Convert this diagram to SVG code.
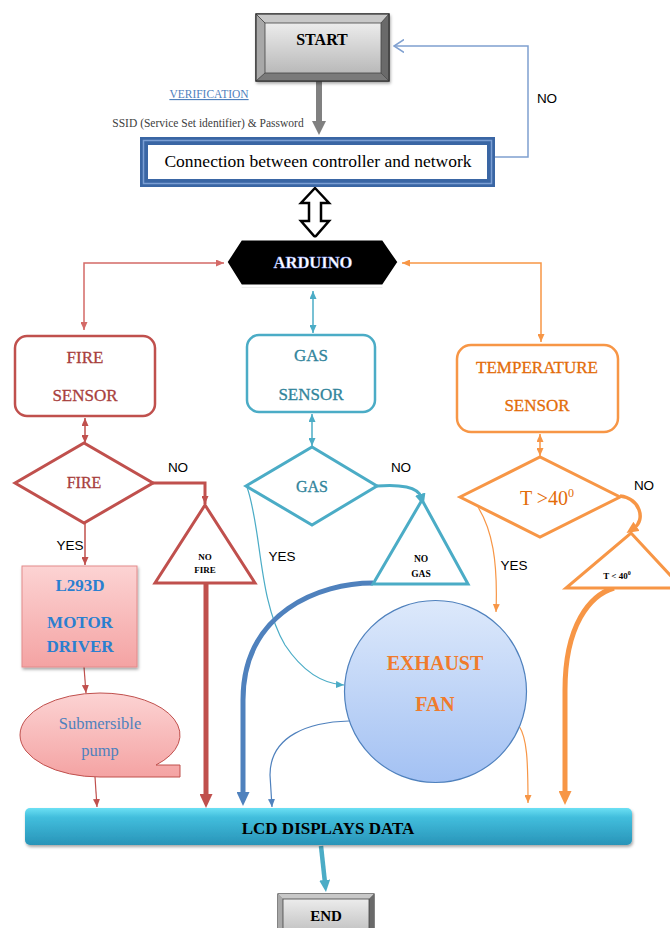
<svg xmlns="http://www.w3.org/2000/svg" width="670" height="928" viewBox="0 0 670 928">
<style>
  .serif{font-family:"Liberation Serif","Times New Roman",serif}
  .sans{font-family:"Liberation Sans",Arial,sans-serif}
  .lbl{font-family:"Liberation Sans",Arial,sans-serif;font-size:13.5px;fill:#000}
  .c{text-anchor:middle}
  .b{font-weight:bold}
  .red{stroke:#c0504d;fill:none}
  .cy{stroke:#4bacc6;fill:none}
  .or{stroke:#f79646;fill:none}
  .bl{stroke:#4f81bd;fill:none}
</style>
<defs>
  <linearGradient id="gGray" x1="0" y1="0" x2="0" y2="1"><stop offset="0" stop-color="#ececec"/><stop offset="1" stop-color="#b9b9b9"/></linearGradient>
  <linearGradient id="gPink" x1="0" y1="0" x2="0" y2="1"><stop offset="0" stop-color="#fcd3d3"/><stop offset="1" stop-color="#f4a3a3"/></linearGradient>
  <linearGradient id="gCyan" x1="0" y1="0" x2="0" y2="1"><stop offset="0" stop-color="#6ce0f4"/><stop offset="0.25" stop-color="#42bedd"/><stop offset="1" stop-color="#2894b8"/></linearGradient>
  <linearGradient id="gFan" x1="0" y1="0" x2="0" y2="1"><stop offset="0" stop-color="#dde9fb"/><stop offset="1" stop-color="#a3c1f3"/></linearGradient>
  <filter id="sh" x="-10%" y="-10%" width="130%" height="140%"><feDropShadow dx="1" dy="2" stdDeviation="1.5" flood-color="#000" flood-opacity="0.35"/></filter>
  <marker id="aR" viewBox="0 0 8 7" refX="8" refY="3.5" markerWidth="8" markerHeight="7" markerUnits="userSpaceOnUse" orient="auto-start-reverse"><path d="M0,0 L8,3.5 L0,7 z" fill="#c0504d"/></marker>
  <marker id="aRs" viewBox="0 0 8 7" refX="8" refY="3.5" markerWidth="8" markerHeight="7" markerUnits="userSpaceOnUse" orient="auto-start-reverse"><path d="M0,0 L8,3.5 L0,7 z" fill="#d46a67"/></marker>
  <marker id="aRB" viewBox="0 0 14 13" refX="4" refY="6.5" markerWidth="14" markerHeight="13" markerUnits="userSpaceOnUse" orient="auto"><path d="M0,0 L14,6.5 L0,13 z" fill="#c0504d"/></marker>
  <marker id="aC" viewBox="0 0 8 7" refX="8" refY="3.5" markerWidth="8" markerHeight="7" markerUnits="userSpaceOnUse" orient="auto-start-reverse"><path d="M0,0 L8,3.5 L0,7 z" fill="#4bacc6"/></marker>
  <marker id="aCB" viewBox="0 0 12 11" refX="3" refY="5.5" markerWidth="12" markerHeight="11" markerUnits="userSpaceOnUse" orient="auto"><path d="M0,0 L12,5.5 L0,11 z" fill="#4bacc6"/></marker>
  <marker id="aO" viewBox="0 0 8 7" refX="8" refY="3.5" markerWidth="8" markerHeight="7" markerUnits="userSpaceOnUse" orient="auto-start-reverse"><path d="M0,0 L8,3.5 L0,7 z" fill="#f79646"/></marker>
  <marker id="aOM" viewBox="0 0 12 11" refX="3" refY="5.5" markerWidth="12" markerHeight="11" markerUnits="userSpaceOnUse" orient="auto"><path d="M0,0 L12,5.5 L0,11 z" fill="#f79646"/></marker>
  <marker id="aOB" viewBox="0 0 14 13" refX="4" refY="6.5" markerWidth="14" markerHeight="13" markerUnits="userSpaceOnUse" orient="auto"><path d="M0,0 L14,6.5 L0,13 z" fill="#f79646"/></marker>
  <marker id="aB" viewBox="0 0 8 7" refX="8" refY="3.5" markerWidth="8" markerHeight="7" markerUnits="userSpaceOnUse" orient="auto"><path d="M0,0 L8,3.5 L0,7 z" fill="#4f81bd"/></marker>
  <marker id="aBB" viewBox="0 0 14 13" refX="4" refY="6.5" markerWidth="14" markerHeight="13" markerUnits="userSpaceOnUse" orient="auto"><path d="M0,0 L14,6.5 L0,13 z" fill="#4f81bd"/></marker>
  <marker id="aG" viewBox="0 0 14 14" refX="4" refY="7" markerWidth="14" markerHeight="14" markerUnits="userSpaceOnUse" orient="auto"><path d="M0,0 L14,7 L0,14 z" fill="#808080"/></marker>
  <marker id="aLB" viewBox="0 0 11 14" refX="10" refY="7" markerWidth="11" markerHeight="14" markerUnits="userSpaceOnUse" orient="auto"><path d="M0,0.5 L10,7 L0,13.5" fill="none" stroke="#7fa0d0" stroke-width="1.5"/></marker>
</defs>

<g id="connectors">
  <path d="M319 81 L319 125" stroke="#808080" stroke-width="6" fill="none" marker-end="url(#aG)"/>
  <path d="M495 157 L528 157 L528 46 L394 46" stroke="#7fa0d0" stroke-width="1.5" fill="none" marker-end="url(#aLB)"/>
  <path d="M315 188 L329 203 L321 203 L321 221 L329 221 L315 237 L301 221 L309 221 L309 203 L301 203 Z" fill="#fff" stroke="#000" stroke-width="2.5" stroke-linejoin="miter"/>
  <path d="M224 263 L84 263 L84 330" stroke="#d46a67" fill="none" stroke-width="1.5" marker-start="url(#aRs)" marker-end="url(#aRs)"/>
  <path d="M313 291 L313 333" class="cy" stroke-width="1.5" marker-start="url(#aC)" marker-end="url(#aC)"/>
  <path d="M402 263 L541 263 L541 342" class="or" stroke-width="1.5" marker-start="url(#aO)" marker-end="url(#aO)"/>
  <path d="M85 418 L85 443" class="red" stroke-width="1.5" marker-start="url(#aR)" marker-end="url(#aR)"/>
  <path d="M312 414 L312 446" class="cy" stroke-width="1.5" marker-start="url(#aC)" marker-end="url(#aC)"/>
  <path d="M540 434 L540 456" class="or" stroke-width="1.5" marker-start="url(#aO)" marker-end="url(#aO)"/>
  <path d="M153 483 L205 483 L205 504" class="red" stroke-width="3" marker-end="url(#aR)"/>
  <path d="M85 523 L85 565" class="red" stroke-width="1.5" marker-end="url(#aR)"/>
  <path d="M206 584 L206 798" class="red" stroke-width="5" marker-end="url(#aRB)"/>
  <path d="M84 667 L86 693" class="red" stroke-width="1.2" marker-end="url(#aR)"/>
  <path d="M95 777 L97 807" class="red" stroke-width="1.2" marker-end="url(#aR)"/>
  <path d="M377 486 C400 484 418 487 421 497" class="cy" stroke-width="3" marker-end="url(#aCB)"/>
  <path d="M247 487 C262 530 258 600 285 645 C305 675 325 684 344 685" class="cy" stroke-width="1.2" marker-end="url(#aC)"/>
  <path d="M373 583 C320 583 243 612 243 700 L243 796" class="bl" stroke-width="5" marker-end="url(#aBB)"/>
  <path d="M349 721 C310 722 270 735 270 775 L272 807" class="bl" stroke-width="1.2" marker-end="url(#aB)"/>
  <path d="M620 496 C640 498 646 520 634 528" class="or" stroke-width="3.5" marker-end="url(#aOM)"/>
  <path d="M478 507 C492 530 498 560 496 612" class="or" stroke-width="1.2" marker-end="url(#aO)"/>
  <path d="M614 588 C590 595 565 625 565 690 L565 795" class="or" stroke-width="5" marker-end="url(#aOB)"/>
  <path d="M519 726 C527 738 528 760 528 803" class="or" stroke-width="1.2" marker-end="url(#aO)"/>
  <path d="M321 846 L325 883" stroke="#4bacc6" stroke-width="4.5" fill="none" marker-end="url(#aCB)"/>
</g>

<g id="start">
  <rect x="256" y="14" width="133" height="67" fill="#8a8a8a" stroke="#333" stroke-width="1.2" filter="url(#sh)"/>
  <polygon points="256,14 389,14 381,23 265,23" fill="#c8c8c8"/>
  <polygon points="256,14 265,23 265,73 256,81" fill="#a8a8a8"/>
  <polygon points="389,14 381,23 381,73 389,81" fill="#6a6a6a"/>
  <polygon points="256,81 265,73 381,73 389,81" fill="#7a7a7a"/>
  <path d="M256 14 L265 23 M389 14 L381 23 M256 81 L265 73 M389 81 L381 73" stroke="#555" stroke-width="1"/>
  <rect x="265" y="23" width="116" height="50" fill="url(#gGray)" stroke="#444" stroke-width="0.8"/>
  <rect x="256" y="14" width="133" height="67" fill="none" stroke="#333" stroke-width="1.2"/>
  <text x="322" y="45" class="serif c b" font-size="16">START</text>
</g>

<g id="verification">
  <text x="209" y="98" class="serif c" font-size="11.5" fill="#4f81bd" text-decoration="underline">VERIFICATION</text>
  <text x="208" y="127" class="serif c" font-size="11.5" fill="#404040">SSID (Service Set identifier) &amp; Password</text>
</g>

<g id="connection">
  <rect x="140" y="137" width="355" height="50" fill="#3a66a4"/>
  <rect x="143.5" y="140.5" width="348" height="43" fill="none" stroke="#7b9fd4" stroke-width="1.5"/>
  <rect x="148" y="145" width="339" height="34" fill="#fff"/>
  <text x="318" y="167" class="serif c" font-size="17.5">Connection between controller and network</text>
</g>
<text x="547" y="103" class="lbl c">NO</text>

<g id="arduino">
  <polygon points="228,264 242,242 382,242 397,264 382,288 242,288" fill="#bbb" opacity="0.5"/>
  <polygon points="226,262 241,239 383,239 399,262 383,286 241,286" fill="#000" stroke="#fff" stroke-width="3"/>
  <text x="313" y="268" class="serif c b" font-size="16.5" fill="#fff" stroke="#8aa0ff" stroke-width="0.3">ARDUINO</text>
</g>

<g id="fire-sensor">
  <rect x="15" y="336" width="140" height="80" rx="12" fill="#fff" stroke="#c0504d" stroke-width="2.5"/>
  <text x="85" y="363" class="serif c" font-size="17" fill="#a8403d" stroke="#a8403d" stroke-width="0.3">FIRE</text>
  <text x="85" y="401" class="serif c" font-size="17" fill="#a8403d" stroke="#a8403d" stroke-width="0.3">SENSOR</text>
</g>
<g id="gas-sensor">
  <rect x="247" y="335" width="128" height="77" rx="12" fill="#fff" stroke="#4bacc6" stroke-width="2.5"/>
  <text x="311" y="361" class="serif c" font-size="17" fill="#31849b" stroke="#31849b" stroke-width="0.3">GAS</text>
  <text x="311" y="400" class="serif c" font-size="17" fill="#31849b" stroke="#31849b" stroke-width="0.3">SENSOR</text>
</g>
<g id="temp-sensor">
  <rect x="457" y="345" width="161" height="87" rx="14" fill="#fff" stroke="#f79646" stroke-width="2.5"/>
  <text x="537" y="373" class="serif c" font-size="17" fill="#e36c09" stroke="#e36c09" stroke-width="0.3">TEMPERATURE</text>
  <text x="537" y="411" class="serif c" font-size="17" fill="#e36c09" stroke="#e36c09" stroke-width="0.3">SENSOR</text>
</g>

<g id="fire-decision">
  <polygon points="15,483 84,443 153,483 84,523" fill="#fff" stroke="#c0504d" stroke-width="3"/>
  <text x="84" y="488" class="serif c" font-size="16" fill="#a8403d" stroke="#a8403d" stroke-width="0.3">FIRE</text>
</g>
<text x="178" y="472" class="lbl c">NO</text>
<text x="70" y="550" class="lbl c">YES</text>

<g id="no-fire">
  <polygon points="205,505 255,583 155,583" fill="#fff" stroke="#c0504d" stroke-width="3"/>
  <text x="205" y="560" class="serif c b" font-size="9">NO</text>
  <text x="205" y="573" class="serif c b" font-size="9">FIRE</text>
</g>

<g id="gas-decision">
  <polygon points="246,486 312,447 377,486 312,525" fill="#fff" stroke="#4bacc6" stroke-width="3"/>
  <text x="312" y="492" class="serif c" font-size="16" fill="#31849b" stroke="#31849b" stroke-width="0.3">GAS</text>
</g>
<text x="401" y="472" class="lbl c">NO</text>
<text x="282" y="561" class="lbl c">YES</text>

<g id="no-gas">
  <polygon points="422,500 468,584 373,584" fill="#fff" stroke="#4bacc6" stroke-width="3"/>
  <text x="421" y="562" class="serif c b" font-size="9.5">NO</text>
  <text x="421" y="577" class="serif c b" font-size="9.5">GAS</text>
</g>

<g id="temp-decision">
  <polygon points="460,497 540,457 620,497 540,537" fill="#fff" stroke="#f79646" stroke-width="3"/>
  <text x="547" y="505" class="serif c" font-size="20" fill="#e36c09">T &gt;40<tspan font-size="12" dy="-8">0</tspan></text>
</g>
<text x="644" y="490" class="lbl c">NO</text>
<text x="514" y="570" class="lbl c">YES</text>

<g id="temp-low">
  <polygon points="631,533 682,588 566,588" fill="#fff" stroke="#f79646" stroke-width="3"/>
  <text x="617" y="579" class="serif c b" font-size="9">T &lt; 40<tspan font-size="6" dy="-4">0</tspan></text>
</g>

<g id="motor-driver">
  <rect x="22" y="566" width="115" height="101" fill="url(#gPink)" stroke="#e38b8b" stroke-width="1" filter="url(#sh)"/>
  <text x="80" y="591" class="serif c b" font-size="17" fill="#2a7fd0">L293D</text>
  <text x="80" y="628" class="serif c b" font-size="17" fill="#2a7fd0">MOTOR</text>
  <text x="80" y="652" class="serif c b" font-size="17" fill="#2a7fd0">DRIVER</text>
</g>

<g id="pump">
  <path d="M100,693 A80,42 0 0 0 100,777 L180,777 L180,765 L156,765 A80,42 0 0 0 100,693 Z" fill="url(#gPink)" stroke="#c0504d" stroke-width="1"/>
  <text x="100" y="729" class="serif c" font-size="16.5" fill="#4f81bd">Submersible</text>
  <text x="100" y="756" class="serif c" font-size="16.5" fill="#4f81bd">pump</text>
</g>

<g id="exhaust-fan">
  <circle cx="435.5" cy="691.5" r="91" fill="url(#gFan)" stroke="#4f81bd" stroke-width="1.2"/>
  <text x="435" y="670" class="serif c b" font-size="20" fill="#f07b2c">EXHAUST</text>
  <text x="435" y="711" class="serif c b" font-size="20" fill="#f07b2c">FAN</text>
</g>

<g id="lcd">
  <rect x="25" y="808" width="607" height="37" rx="5" fill="url(#gCyan)" filter="url(#sh)"/>
  <text x="328" y="834" class="serif c b" font-size="17">LCD DISPLAYS DATA</text>
</g>

<g id="end">
  <rect x="278" y="894" width="96" height="44" fill="#8a8a8a" stroke="#333" stroke-width="1.2"/>
  <polygon points="278,894 374,894 369,899 283,899" fill="#c8c8c8"/>
  <polygon points="278,894 283,899 283,938 278,938" fill="#a8a8a8"/>
  <polygon points="374,894 369,899 369,938 374,938" fill="#6a6a6a"/>
  <rect x="283" y="899" width="86" height="40" fill="url(#gGray)" stroke="#444" stroke-width="0.8"/>
  <text x="326" y="921" class="serif c b" font-size="15">END</text>
</g>
</svg>
